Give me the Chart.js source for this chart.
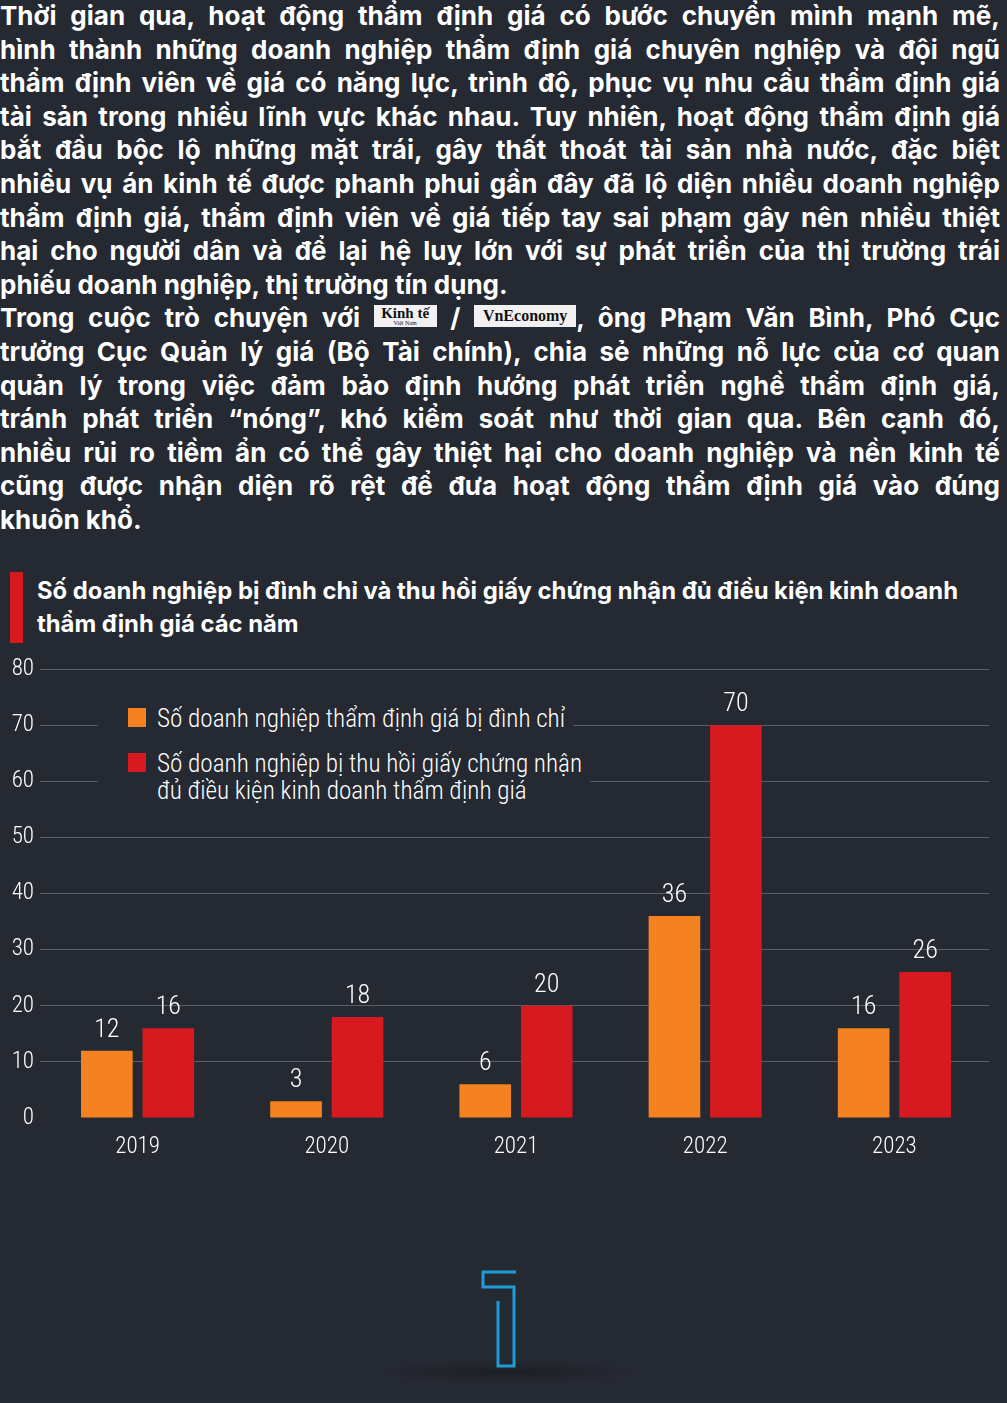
<!DOCTYPE html>
<html lang="vi">
<head>
<meta charset="utf-8">
<title>Số doanh nghiệp bị đình chỉ và thu hồi giấy chứng nhận</title>
<script src="https://cdn.jsdelivr.net/npm/chart.js@4.4.1/dist/chart.umd.min.js"></script>
<style>
  html, body { margin: 0; padding: 0; }
  body {
    width: 1007px; height: 1403px; overflow: hidden; position: relative;
    background: #252932; color: #fff;
    font-family: Inter, "Noto Sans", sans-serif;
  }
  .intro { position: absolute; left: 0; top: -1px; width: 1000px; }
  .intro .line { height: 33.6px; line-height: 33.6px; font-size: 26px; font-weight: 700; white-space: nowrap; }
  .fit { display: inline-block; transform-origin: left center; }
  .logo {
    display: inline-block; vertical-align: top; position: relative; top: 4px;
    background: #f1f1f1; color: #111;
    font-family: "Liberation Serif", "DejaVu Serif", serif; font-weight: 700;
    height: 22px; line-height: 1; text-align: center; word-spacing: normal;
    box-sizing: border-box;
  }
  .logo.kt { width: 63px; font-size: 15px; padding-top: 1px; }
  .logo.kt small { display: block; font-size: 6px; font-weight: 400; margin-top: -1px; }
  .logo.vne { width: 102px; font-size: 16px; line-height: 22px; }
  .title-bar { position: absolute; left: 10px; top: 572px; width: 13px; height: 71px; background: #d71920; }
  .title { position: absolute; left: 37px; top: 574px; font-size: 24px; font-weight: 700; line-height: 33px; white-space: nowrap; }
  .title .line { height: 33px; }
  #chartWrap { position: absolute; left: 0; top: 645px; width: 1007px; height: 530px; }
  .legend {
    position: absolute; left: 98px; top: 702px;
    font-family: "Roboto Condensed", Roboto, sans-serif; font-weight: 300;
    font-size: 25.2px; line-height: 27px;
  }
  .legend .item { display: table; background: #252932; padding: 3px 8px 3px 30px; position: relative; margin-bottom: 12px; }
  .legend .sw { position: absolute; left: 30px; top: 6px; width: 18px; height: 19px; }
  .legend .txt { padding-left: 29px; }
  .mark { position: absolute; left: 0; top: 1250px; }
</style>
</head>
<body>

<div class="intro" id="intro">
  <div class="line"><span class="fit">Thời gian qua, hoạt động thẩm định giá có bước chuyển mình mạnh mẽ,</span></div>
  <div class="line"><span class="fit">hình thành những doanh nghiệp thẩm định giá chuyên nghiệp và đội ngũ</span></div>
  <div class="line"><span class="fit">thẩm định viên về giá có năng lực, trình độ, phục vụ nhu cầu thẩm định giá</span></div>
  <div class="line"><span class="fit">tài sản trong nhiều lĩnh vực khác nhau. Tuy nhiên, hoạt động thẩm định giá</span></div>
  <div class="line"><span class="fit">bắt đầu bộc lộ những mặt trái, gây thất thoát tài sản nhà nước, đặc biệt</span></div>
  <div class="line"><span class="fit">nhiều vụ án kinh tế được phanh phui gần đây đã lộ diện nhiều doanh nghiệp</span></div>
  <div class="line"><span class="fit">thẩm định giá, thẩm định viên về giá tiếp tay sai phạm gây nên nhiều thiệt</span></div>
  <div class="line"><span class="fit">hại cho người dân và để lại hệ luỵ lớn với sự phát triển của thị trường trái</span></div>
  <div class="line"><span class="fit last">phiếu doanh nghiệp, thị trường tín dụng.</span></div>
  <div class="line"><span class="fit">Trong cuộc trò chuyện với <span class="logo kt">Kinh tế<small>Việt Nam</small></span> / <span class="logo vne">VnEconomy</span>, ông Phạm Văn Bình, Phó Cục</span></div>
  <div class="line"><span class="fit">trưởng Cục Quản lý giá (Bộ Tài chính), chia sẻ những nỗ lực của cơ quan</span></div>
  <div class="line"><span class="fit">quản lý trong việc đảm bảo định hướng phát triển nghề thẩm định giá,</span></div>
  <div class="line"><span class="fit">tránh phát triển “nóng”, khó kiểm soát như thời gian qua. Bên cạnh đó,</span></div>
  <div class="line"><span class="fit">nhiều rủi ro tiềm ẩn có thể gây thiệt hại cho doanh nghiệp và nền kinh tế</span></div>
  <div class="line"><span class="fit">cũng được nhận diện rõ rệt để đưa hoạt động thẩm định giá vào đúng</span></div>
  <div class="line"><span class="fit last">khuôn khổ.</span></div>
</div>

<div class="title-bar"></div>
<div class="title" id="title">
  <div class="line"><span class="fit">Số doanh nghiệp bị đình chỉ và thu hồi giấy chứng nhận đủ điều kiện kinh doanh</span></div>
  <div class="line"><span class="fit">thẩm định giá các năm</span></div>
</div>

<div id="chartWrap"><canvas id="chart" width="1007" height="530"></canvas></div>
<div class="legend" id="legend"></div>

<svg class="mark" width="1007" height="153" viewBox="0 1250 1007 153">
  <defs>
    <radialGradient id="shadow" cx="0.5" cy="0.5" r="0.5">
      <stop offset="0" stop-color="#1a1d23" stop-opacity="0.9"/>
      <stop offset="1" stop-color="#1a1d23" stop-opacity="0"/>
    </radialGradient>
  </defs>
  <ellipse cx="506" cy="1372" rx="130" ry="12" fill="url(#shadow)"/>
  <path d="M516 1272 H483 V1287 H514 V1366 H498 V1301" fill="none" stroke="#1f9bd7" stroke-width="3"/>
</svg>

<script>
// chart data
const years = ["2019", "2020", "2021", "2022", "2023"];
const suspended = [12, 3, 6, 36, 16];
const revoked = [16, 18, 20, 70, 26];
const yTicks = [0, 10, 20, 30, 40, 50, 60, 70, 80];

const suspendedLabel = ["Số doanh nghiệp thẩm định giá bị đình chỉ"];
const revokedLabel = ["Số doanh nghiệp bị thu hồi giấy chứng nhận", "đủ điều kiện kinh doanh thẩm định giá"];

const ORANGE = "#f58220";
const RED = "#d71920";
const GRID = "#5a5e66";
const NARROW = "'Roboto Condensed', Roboto, sans-serif";

document.addEventListener("readystatechange", (event) => {
  if (event.target.readyState === "complete") {
    initApp();
  }
});

const initApp = () => {
  justifyLines();
  fitTitle();
  legend();
  chart();
};

function qs(selector, parent = document) {
  return parent.querySelector(selector);
}

function qsAll(selector, parent = document) {
  return [...parent.querySelectorAll(selector)];
}

// stretch each intro line to the full width, like the justified text in the picture
function justifyLines() {
  const W = 1000;
  qsAll("#intro .fit").forEach((el) => {
    const w = el.getBoundingClientRect().width;
    if (w > W) {
      el.style.transform = `scaleX(${W / w})`;
      return;
    }
    if (el.classList.contains("last")) return;
    const spaces = [...el.childNodes]
      .filter((n) => n.nodeType === 3)
      .reduce((s, n) => s + (n.textContent.match(/ /g) || []).length, 0);
    if (spaces) el.style.wordSpacing = (W - w) / spaces + "px";
  });
}

function fitTitle() {
  const lines = qsAll("#title .fit");
  const k = 921 / lines[0].getBoundingClientRect().width;
  lines.forEach((el) => (el.style.transform = `scaleX(${k})`));
}

function legend() {
  const box = qs("#legend");
  [
    [suspendedLabel, ORANGE],
    [revokedLabel, RED],
  ].forEach(([lines, color]) => {
    const item = document.createElement("div");
    item.className = "item";
    item.innerHTML =
      `<span class="sw" style="background:${color}"></span>` +
      `<div class="txt">${lines.join("<br>")}</div>`;
    box.appendChild(item);
  });
}

// numbers above the bars
const valueLabels = {
  id: "valueLabels",
  afterDatasetsDraw(c) {
    const ctx = c.ctx;
    ctx.save();
    ctx.fillStyle = "#fff";
    ctx.font = `300 26px ${NARROW}`;
    ctx.textAlign = "center";
    ctx.textBaseline = "alphabetic";
    c.data.datasets.forEach((ds, i) => {
      c.getDatasetMeta(i).data.forEach((bar, j) => {
        ctx.fillText(ds.data[j], bar.x, bar.y - 14);
      });
    });
    ctx.restore();
  },
};

function chart() {
  const ctx = qs("#chart").getContext("2d");
  // the picture uses a very narrow face: tighten the digits a little
  ctx.letterSpacing = "-1px";
  new Chart(ctx, {
    type: "bar",
    data: {
      labels: years,
      datasets: [
        {
          label: suspendedLabel.join(" "),
          data: suspended,
          backgroundColor: ORANGE,
          barPercentage: 0.84,
          categoryPercentage: 0.65,
        },
        {
          label: revokedLabel.join(" "),
          data: revoked,
          backgroundColor: RED,
          barPercentage: 0.84,
          categoryPercentage: 0.65,
        },
      ],
    },
    options: {
      responsive: false,
      animation: false,
      layout: { padding: { top: 24, right: 18, left: 0, bottom: 0 } },
      plugins: { legend: { display: false }, tooltip: { enabled: false } },
      scales: {
        x: {
          grid: { display: false },
          border: { display: false },
          ticks: { color: "#fff", font: { family: NARROW, size: 23, weight: 300 }, padding: 7 },
          afterFit(s) {
            s.height = 57;
          },
        },
        y: {
          min: yTicks[0],
          max: yTicks[yTicks.length - 1],
          afterBuildTicks(s) {
            s.ticks = yTicks.map((v) => ({ value: v }));
          },
          border: { display: false },
          grid: {
            color: (c) => (c.tick && c.tick.value === 0 ? "rgba(0,0,0,0)" : GRID),
            drawTicks: true,
            tickLength: 3,
            lineWidth: 1,
          },
          ticks: { color: "#fff", font: { family: NARROW, size: 23, weight: 300 }, padding: 6 },
          afterFit(s) {
            s.width = 43;
          },
        },
      },
    },
    plugins: [valueLabels],
  });
}
</script>
</body>
</html>
